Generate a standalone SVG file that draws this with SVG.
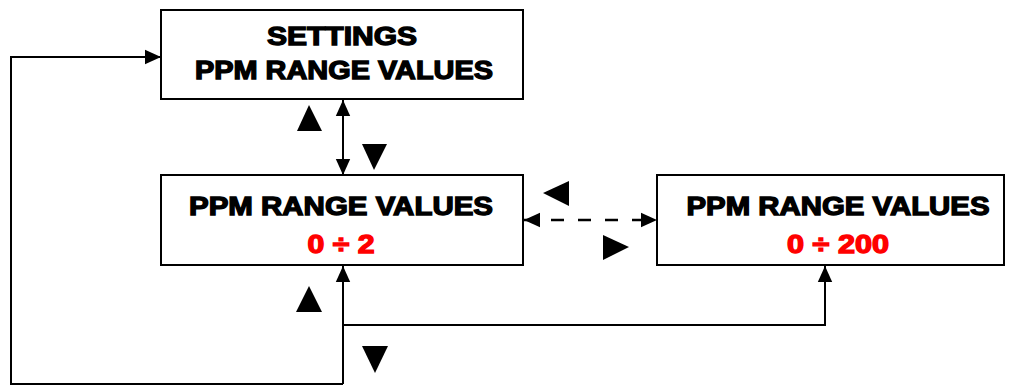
<svg xmlns="http://www.w3.org/2000/svg" width="1011" height="386" viewBox="0 0 1011 386">
<defs>
<style>
.box{fill:#fff;stroke:#000;stroke-width:2}
.t{font-family:"Liberation Sans",Arial,sans-serif;font-weight:bold;font-size:25px;text-anchor:middle;fill:#000;stroke:#000;stroke-width:1.3}
.r{fill:#ff0000;stroke:#ff0000}
.c{fill:none;stroke:#000;stroke-width:2}
.d{stroke-dasharray:13,14;stroke-width:2.5}
.tri{fill:#000}
</style>
<marker id="ah" viewBox="0 0 10 10" refX="10" refY="5" markerWidth="16" markerHeight="16" orient="auto-start-reverse" markerUnits="userSpaceOnUse">
<path d="M0,0.5 L10,5 L0,9.5 z" fill="#000"/>
</marker>
</defs>
<g id="connectors">
<line class="c" x1="343" y1="100" x2="343" y2="175" marker-start="url(#ah)" marker-end="url(#ah)"/>
<line class="c d" x1="524" y1="220" x2="657" y2="220" marker-start="url(#ah)" marker-end="url(#ah)"/>
<polyline class="c" points="343,384 343,266"  marker-end="url(#ah)"/>
<polyline class="c" points="343,325 825,325 825,266" marker-end="url(#ah)"/>
<polyline class="c" points="343,384 11,384 11,57 161,57" marker-end="url(#ah)"/>
<polygon class="tri" points="309,105 322,131 297,131"/>
<polygon class="tri" points="362,144 387,144 374,170"/>
<polygon class="tri" points="543,193 569,181 569,206"/>
<polygon class="tri" points="603,235 629,247 603,260"/>
<polygon class="tri" points="309,286 322,312 296,312"/>
<polygon class="tri" points="362,346 388,346 375,373"/>
</g>
<g id="settings">
<rect class="box" x="161" y="10" width="362" height="89"/>
<text class="t" x="342" y="45" textLength="150" lengthAdjust="spacingAndGlyphs">SETTINGS</text>
<text class="t" x="344" y="79" textLength="298" lengthAdjust="spacingAndGlyphs">PPM RANGE VALUES</text>
</g>
<g id="range2">
<rect class="box" x="161" y="175" width="362" height="90"/>
<text class="t" x="341" y="215" textLength="304" lengthAdjust="spacingAndGlyphs">PPM RANGE VALUES</text>
<text class="t r" x="341" y="253" textLength="67" lengthAdjust="spacingAndGlyphs">0 ÷ 2</text>
</g>
<g id="range200">
<rect class="box" x="657" y="175" width="347" height="90"/>
<text class="t" x="838" y="215" textLength="303" lengthAdjust="spacingAndGlyphs">PPM RANGE VALUES</text>
<text class="t r" x="838" y="253" textLength="102" lengthAdjust="spacingAndGlyphs">0 ÷ 200</text>
</g>
</svg>
